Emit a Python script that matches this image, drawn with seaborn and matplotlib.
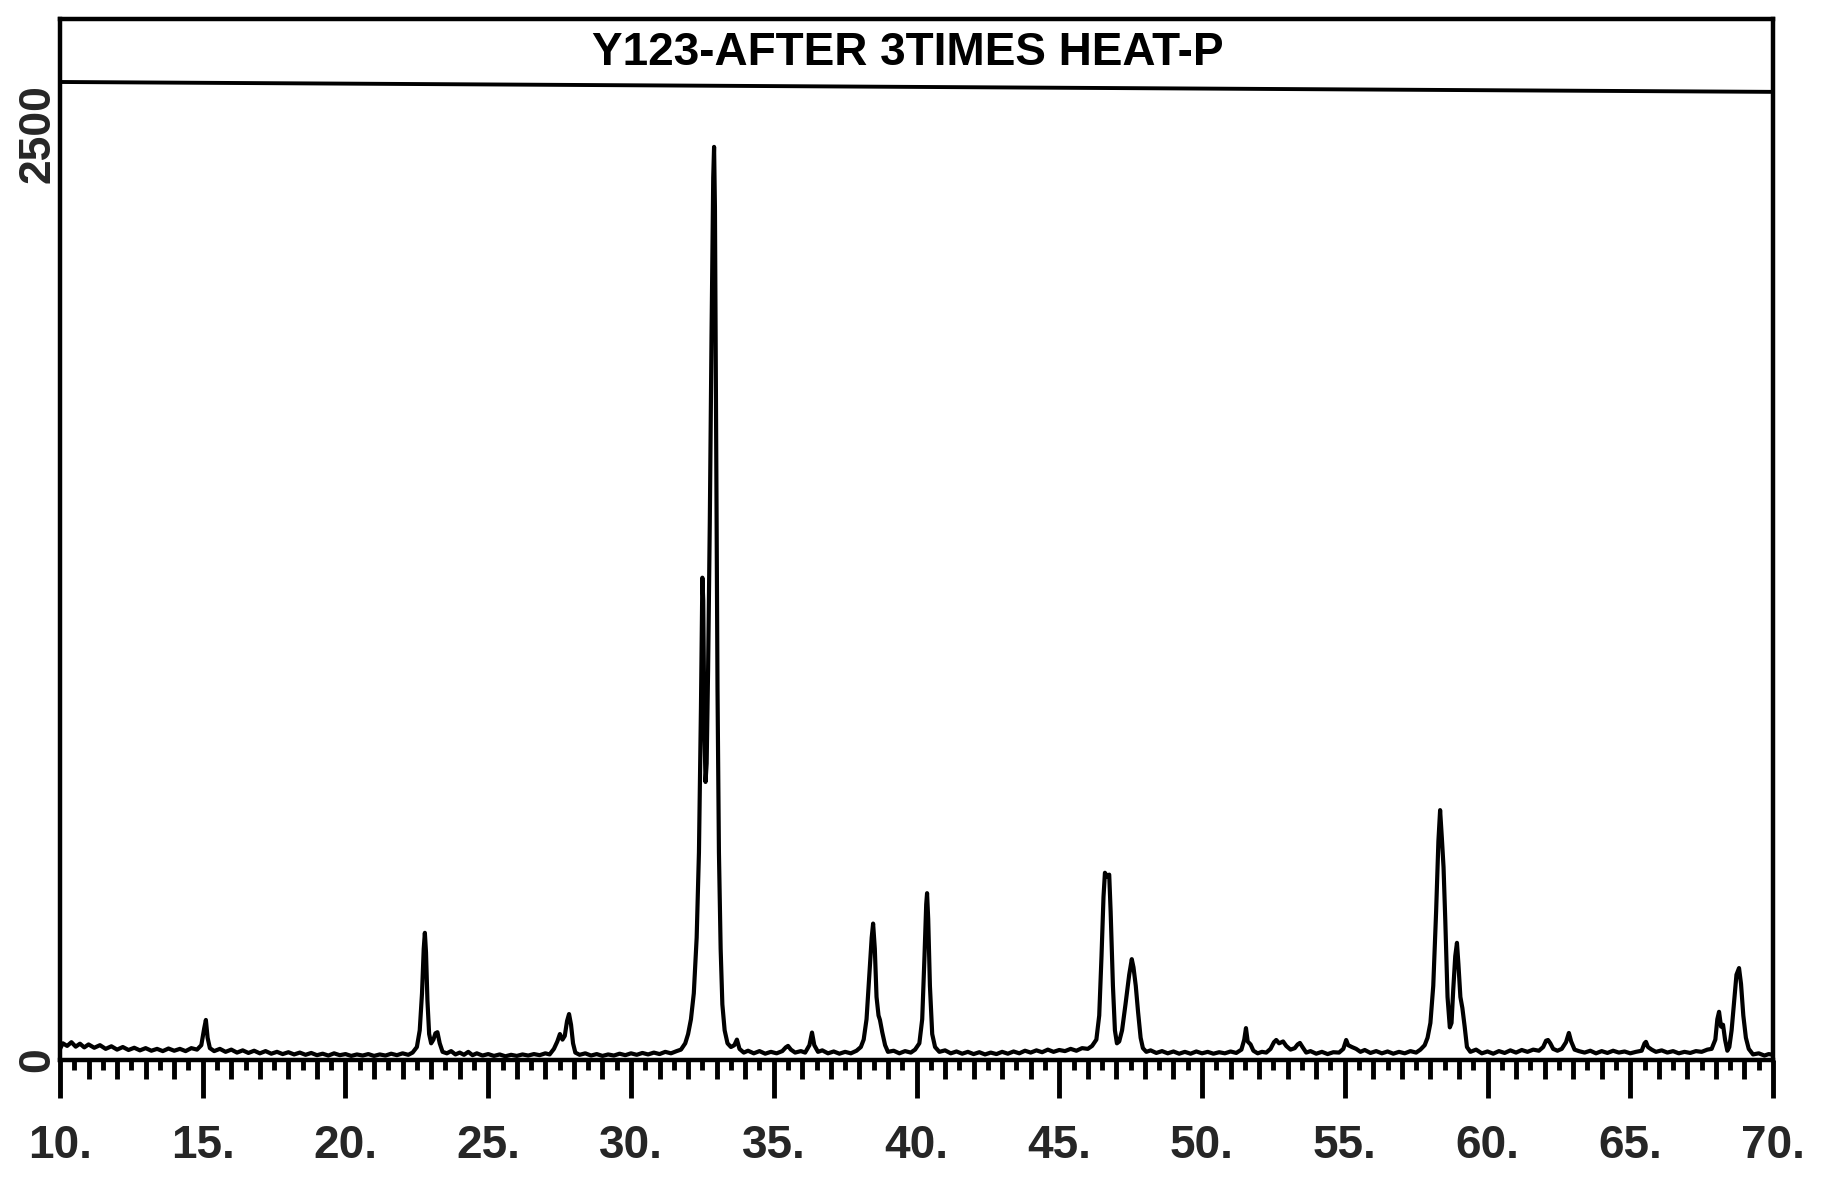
import matplotlib
matplotlib.use("Agg")
import matplotlib.pyplot as plt
import numpy as np
import pandas as pd
import seaborn as sns
from matplotlib.ticker import FixedLocator

# ---- data (2-theta in degrees, counts) ----
two_theta = [
    10.0, 10.1, 10.25, 10.4, 10.55, 10.7, 10.85, 11.0, 11.2, 11.4, 11.6, 11.8, 12.0, 12.2, 12.4, 12.6, 12.8,
    13.0, 13.2, 13.4, 13.6, 13.8, 14.0, 14.2, 14.4, 14.6, 14.8, 14.95, 15.05, 15.11, 15.17, 15.25, 15.4,
    15.6, 15.8, 16.0, 16.2, 16.4, 16.6, 16.8, 17.0, 17.2, 17.4, 17.6, 17.8, 18.0, 18.2, 18.4, 18.6, 18.8,
    19.0, 19.2, 19.4, 19.6, 19.8, 20.0, 20.2, 20.4, 20.6, 20.8, 21.0, 21.2, 21.4, 21.6, 21.8, 22.0, 22.2, 22.35,
    22.5, 22.6, 22.68, 22.74, 22.78, 22.82, 22.87, 22.93, 23.0, 23.08, 23.15, 23.22, 23.3, 23.4,
    23.55, 23.7, 23.85, 24.0, 24.15, 24.3, 24.45, 24.6, 24.8, 25.0, 25.2, 25.4, 25.6, 25.8, 26.0, 26.2, 26.4,
    26.6, 26.8, 27.0, 27.15,
    27.3, 27.42, 27.51, 27.6, 27.68, 27.76, 27.83, 27.9, 27.97, 28.05,
    28.2, 28.4, 28.6, 28.8, 29.0, 29.2, 29.4, 29.6, 29.8, 30.0, 30.2, 30.4, 30.6, 30.8, 31.0, 31.2, 31.4, 31.6, 31.75,
    31.9, 32.0, 32.1, 32.2, 32.3, 32.38, 32.45, 32.5, 32.53, 32.57, 32.61, 32.65, 32.7, 32.76, 32.82, 32.88, 32.91,
    32.94, 32.98, 33.03, 33.08, 33.14, 33.2, 33.28, 33.38, 33.5, 33.62, 33.71, 33.8, 33.95,
    34.1, 34.3, 34.5, 34.7, 34.9, 35.1, 35.3, 35.42, 35.5, 35.6, 35.75, 35.95, 36.1, 36.25, 36.34, 36.42, 36.55,
    36.7, 36.9, 37.1, 37.3, 37.5, 37.7, 37.9,
    38.05, 38.15, 38.25, 38.35, 38.43, 38.48, 38.54, 38.6, 38.67, 38.72, 38.8, 38.9, 39.0,
    39.2, 39.4, 39.6, 39.8, 39.95,
    40.1, 40.2, 40.28, 40.34, 40.37, 40.41, 40.47, 40.55, 40.65, 40.8,
    41.0, 41.2, 41.4, 41.6, 41.8, 42.0, 42.2, 42.4, 42.6, 42.8, 43.0, 43.2, 43.4, 43.6, 43.8, 44.0, 44.2, 44.4,
    44.6, 44.8, 45.0, 45.2, 45.4, 45.6, 45.8, 46.0, 46.15,
    46.3, 46.4, 46.48, 46.55, 46.6, 46.68, 46.75, 46.8, 46.88, 46.95, 47.02, 47.1, 47.2, 47.32, 47.45, 47.54,
    47.6, 47.68, 47.76, 47.85, 47.93,
    48.05, 48.2, 48.4, 48.6, 48.8, 49.0, 49.2, 49.4, 49.6, 49.8, 50.0, 50.2, 50.4, 50.6, 50.8, 51.0, 51.2, 51.38,
    51.48, 51.54, 51.6, 51.7, 51.8, 51.95, 52.1, 52.25, 52.4, 52.52, 52.6, 52.7, 52.84, 52.95, 53.1, 53.25, 53.35,
    53.43, 53.52, 53.65, 53.8, 54.0, 54.2, 54.4, 54.6, 54.8, 54.95, 55.05, 55.12, 55.25, 55.4,
    55.55, 55.7, 55.9, 56.1, 56.3, 56.5, 56.7, 56.9, 57.1, 57.3, 57.5, 57.65,
    57.8, 57.9, 58.0, 58.1, 58.2, 58.28, 58.34, 58.4, 58.46, 58.52, 58.6, 58.68, 58.74, 58.8, 58.87, 58.93, 58.98,
    59.05, 59.12, 59.2, 59.28,
    59.4, 59.6, 59.8, 60.0, 60.2, 60.4, 60.6, 60.8, 61.0, 61.2, 61.4, 61.6, 61.8,
    61.95, 62.05, 62.12, 62.2, 62.3, 62.45, 62.6, 62.75, 62.85, 62.93, 63.05,
    63.2, 63.4, 63.6, 63.8, 64.0, 64.2, 64.4, 64.6, 64.8, 65.0, 65.2, 65.4,
    65.5, 65.55, 65.62, 65.75, 65.9,
    66.1, 66.3, 66.5, 66.7, 66.9, 67.1, 67.3, 67.5, 67.7, 67.85,
    67.98, 68.05, 68.11, 68.18, 68.25, 68.32, 68.4, 68.47, 68.55, 68.64, 68.72, 68.81, 68.88, 68.96, 69.05,
    69.15, 69.3, 69.5, 69.7, 69.85, 70.0,
]
intensity = [
    30, 45, 38, 48, 36, 44, 34, 42, 33, 40, 30, 37, 28, 35, 27, 33, 26,
    32, 25, 30, 24, 31, 25, 30, 24, 32, 28, 40, 85, 108, 60, 32, 24,
    30, 22, 28, 20, 26, 19, 25, 18, 24, 17, 22, 16, 21, 15, 20, 14, 19,
    13, 17, 12, 18, 13, 16, 11, 15, 12, 16, 11, 15, 12, 17, 13, 18, 14, 20,
    35, 80, 180, 300, 343, 290, 160, 70, 45, 55, 72, 75, 45, 22,
    18, 24, 15, 20, 14, 22, 13, 18, 12, 16, 11, 15, 10, 14, 11, 15, 12,
    16, 13, 18, 15,
    30, 50, 70, 55, 65, 105, 124, 95, 45, 20,
    14, 18, 12, 16, 11, 15, 12, 17, 13, 18, 14, 19, 15, 20, 16, 22, 18, 24, 28,
    45, 70, 110, 180, 330, 560, 950, 1301, 1240, 900, 750, 800, 1050, 1450, 1950, 2380, 2463,
    2300, 1700, 1000, 560, 300, 150, 80, 45, 35, 40, 55, 30, 20,
    25, 18, 24, 17, 22, 18, 24, 34, 38, 28, 20, 24, 20, 40, 74, 40, 22,
    26, 18, 23, 17, 22, 18, 25,
    35, 55, 110, 230, 330, 368, 300, 170, 120, 108, 75, 40, 22,
    25, 18, 24, 20, 28,
    45, 110, 280, 420, 450, 380, 200, 70, 35, 22,
    26, 18, 23, 17, 22, 16, 21, 15, 20, 16, 22, 17, 23, 18, 25, 20, 26, 21,
    28, 22, 27, 24, 30, 25, 32, 30, 38,
    55, 120, 280, 440, 505, 495, 500, 400, 200, 80, 45, 50, 80, 150, 230, 272,
    250, 200, 130, 60, 32,
    22, 26, 19, 24, 18, 23, 17, 22, 17, 23, 18, 22, 17, 21, 18, 23, 19, 28,
    55, 86, 50, 42, 25, 18, 22, 20, 30, 48, 54, 45, 50, 38, 28, 32, 42,
    46, 35, 20, 24, 17, 22, 16, 21, 20, 30, 54, 40, 35, 30,
    22, 27, 19, 24, 18, 23, 17, 22, 18, 24, 20, 28,
    40, 60, 100, 200, 400, 590, 674, 600, 520, 380, 170, 88, 100, 190, 280, 316, 260,
    170, 140, 90, 35,
    22, 28, 18, 23, 17, 24, 19, 26, 20, 27, 22, 28, 25,
    35, 52, 54, 45, 30, 25, 30, 48, 73, 50, 28,
    24, 20, 25, 18, 24, 19, 25, 20, 23, 18, 22, 25,
    45, 49, 35, 28, 22,
    26, 20, 24, 18, 22, 19, 24, 22, 28, 30,
    55, 110, 130, 90, 95, 55, 25, 35, 80, 160, 230, 248, 205, 120, 60,
    30, 15, 18, 12, 16, 14,
]

x_major_ticks = [10, 15, 20, 25, 30, 35, 40, 45, 50, 55, 60, 65, 70]
x_major_labels = ["10.", "15.", "20.", "25.", "30.", "35.", "40.", "45.", "50.", "55.", "60.", "65.", "70."]
y_ticks = [0, 2500]
y_labels = ["0", "2500"]
title_text = "Y123-AFTER 3TIMES HEAT-P"

# ---- styling ----
sns.set_style("white")
plt.rcParams["font.family"] = ["Liberation Sans", "DejaVu Sans"]

fig = plt.figure(figsize=(18.38, 11.78), dpi=100)
ax = fig.add_axes([0.03264, 0.10017, 0.9320, 0.8837])

df = pd.DataFrame({"two_theta": two_theta, "intensity": intensity})
sns.lineplot(data=df, x="two_theta", y="intensity", color="black", linewidth=3.0,
             estimator=None, sort=False, ax=ax)

ax.set_xlim(10, 70)
ax.set_ylim(0, 2808)
ax.set_xlabel("")
ax.set_ylabel("")

for side in ["left", "right", "top", "bottom"]:
    ax.spines[side].set_visible(True)
    ax.spines[side].set_color("black")
    ax.spines[side].set_linewidth(3.2)

# x ticks: long every 5, medium every 1, short every 0.5
ax.xaxis.set_major_locator(FixedLocator(x_major_ticks))
ax.set_xticklabels(x_major_labels)
ax.xaxis.set_minor_locator(FixedLocator(list(range(10, 71))))
ax.tick_params(axis="x", which="major", bottom=True, direction="out", length=27,
               width=3.5, color="black", labelsize=33, pad=19)
ax.tick_params(axis="x", which="minor", bottom=True, direction="out", length=14,
               width=3.5, color="black")
for lbl in ax.get_xticklabels():
    lbl.set_fontweight("bold")

sec = ax.secondary_xaxis("bottom")
sec.spines["bottom"].set_visible(False)
sec.xaxis.set_major_locator(FixedLocator([v + 0.5 for v in range(10, 70)]))
sec.tick_params(axis="x", which="major", bottom=True, direction="out", length=7,
                width=3.5, color="black", labelbottom=False)
sec.tick_params(axis="x", which="minor", bottom=False)

# y ticks: rotated labels only
ax.set_yticks(y_ticks)
ax.set_yticklabels(y_labels)
ax.tick_params(axis="y", left=False, length=0, labelsize=32, labelrotation=90, pad=16)
for lbl in ax.get_yticklabels():
    lbl.set_horizontalalignment("center")
    lbl.set_verticalalignment("center")
    lbl.set_fontweight("bold")

# title box inside the frame
ax.plot([0, 1], [0.9395, 0.930], transform=ax.transAxes, color="black",
        linewidth=2.8, clip_on=False)
ax.text(0.495, 0.967, title_text, transform=ax.transAxes, ha="center", va="center",
        fontsize=33, color="black", fontweight="bold")

fig.savefig("out.png", dpi=100, facecolor="white")
